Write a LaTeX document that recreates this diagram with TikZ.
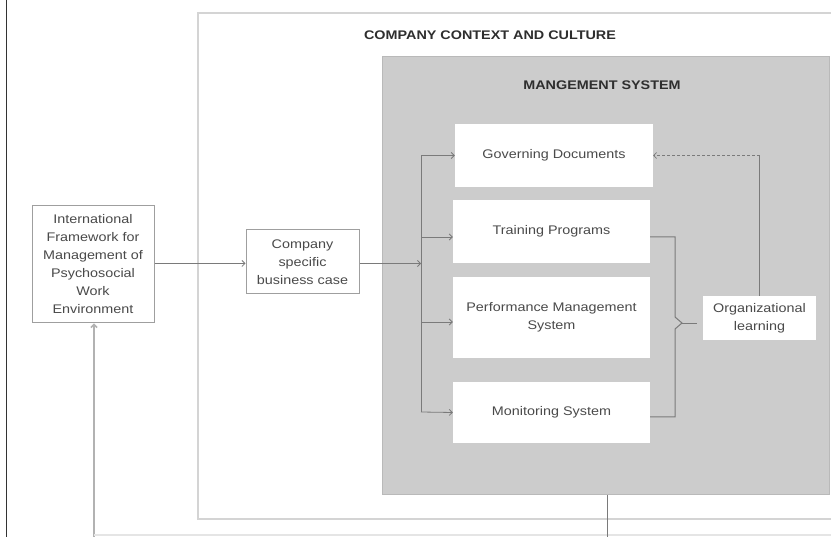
\documentclass[tikz,border=0pt]{standalone}
\usepackage{fontspec}
\setmainfont{Liberation Sans}[FakeStretch=1.15]
\usetikzlibrary{arrows.meta}
\definecolor{linegray}{HTML}{7A7A7A}
\definecolor{boxgray}{HTML}{CCCCCC}
\definecolor{framegray}{HTML}{D4D4D4}
\definecolor{txtgray}{HTML}{4A4A4A}
\definecolor{titlegray}{HTML}{2E2E2E}
\tikzset{
  txt/.style={font=\fontsize{12.5}{18}\selectfont, text=txtgray, align=center},
  whitebox/.style={txt, fill=white, draw=none, minimum width=#1, inner sep=0pt},
  framedbox/.style={txt, fill=white, draw=gray!75, line width=1pt, inner sep=0pt},
  conn/.style={draw=linegray, line width=0.8pt},
  arr/.style={conn, -{Straight Barb[length=3pt,width=6pt]}},
  title/.style={font=\fontsize{12.5}{15}\selectfont\bfseries, text=titlegray}
}
\begin{document}
\begin{tikzpicture}[x=1pt,y=-1pt]
\useasboundingbox (0,0) rectangle (831,537);
\clip (0,0) rectangle (831,537);
\fill[white] (0,0) rectangle (831,537);
% left edge line
\draw[black!80, line width=1.2pt] (6.5,0) -- (6.5,537);
% company context frame
\draw[framegray, line width=1.5pt] (198,13) rectangle (850,519);
\node[title] (ctx) at (490,35) {COMPANY CONTEXT AND CULTURE};
% management system
\draw[fill=boxgray, draw=gray!55, line width=1pt] (382,57) rectangle (829,495);
\node[title] (mtitle) at (602,85) {MANGEMENT SYSTEM};
% boxes inside management system
\node[whitebox=198pt, minimum height=63pt] (GD) at (554,155.5) {Governing Documents};
\node[whitebox=197pt, minimum height=63pt] (TP) at (551.5,231.5) {Training Programs};
\node[whitebox=197pt, minimum height=81pt] (PM) at (551.5,317.5) {Performance Management\\System};
\node[whitebox=197pt, minimum height=61pt] (MS) at (551.5,412.5) {Monitoring System};
\node[whitebox=113pt, minimum height=44pt] (OL) at (759.5,318) {Organizational\\learning};
% outside boxes
\node[framedbox, minimum width=122pt, minimum height=117pt] (IF) at (93,264.5)
  {International\\Framework for\\Management of\\Psychosocial\\Work\\Environment};
\node[framedbox, minimum width=113pt, minimum height=64pt] (CS) at (302.5,262)
  {Company\\specific\\business case};
% connectors
\coordinate (ifOut) at (IF.east |- 0,263.5);
\draw[arr] (ifOut) -- (ifOut -| CS.west);
\coordinate (busTop) at (421,155.5);
\coordinate (busTP) at (421,237);
\coordinate (busPM) at (421,322);
\coordinate (busBot) at (421,412);
\coordinate (busIn) at (421,263.5);
\draw[arr] (busIn -| CS.east) -- (busIn);
\draw[conn] (busTop) -- (busBot);
\draw[arr] (busTop) -- (GD.west);
\draw[arr] (busTP) -- (busTP -| TP.west);
\draw[arr] (busPM) -- (busPM -| PM.west);
\draw[arr] (busBot) -- (MS.west);
% brace to organizational learning
\coordinate (brTop) at (675,237);
\coordinate (brBot) at (675,417);
\coordinate (brTip) at (682,323);
\coordinate (brEnd) at (697,323);
\draw[conn, line width=1pt] (brTop -| TP.east) -- (brTop) -- (675,317) -- (brTip) -- (675,329) -- (brBot) -- (brBot -| MS.east);
\draw[conn] (brTip) -- (brEnd);
% feedback
\coordinate (fb) at (OL.north |- GD.east);
\draw[conn, line width=0.6pt] (OL.north) -- (fb);
\draw[conn, line width=0.6pt, dash pattern=on 3pt off 2pt, -{Straight Barb[length=3pt,width=6pt]}] (fb) -- (GD.east);
% bottom loop
\coordinate (loopL) at (94,537);
\coordinate (loopLb) at (94,535);
\coordinate (loopR) at (607,537);
\draw[gray!60, line width=1.5pt, -{Straight Barb[length=3pt,width=6pt]}] (loopL) -- (IF.south -| loopL);
\draw[gray!20, line width=1.5pt] (loopLb) -- (850,535);
\draw[conn, line width=1pt] (607,495) -- (loopR);
\end{tikzpicture}
\end{document}
